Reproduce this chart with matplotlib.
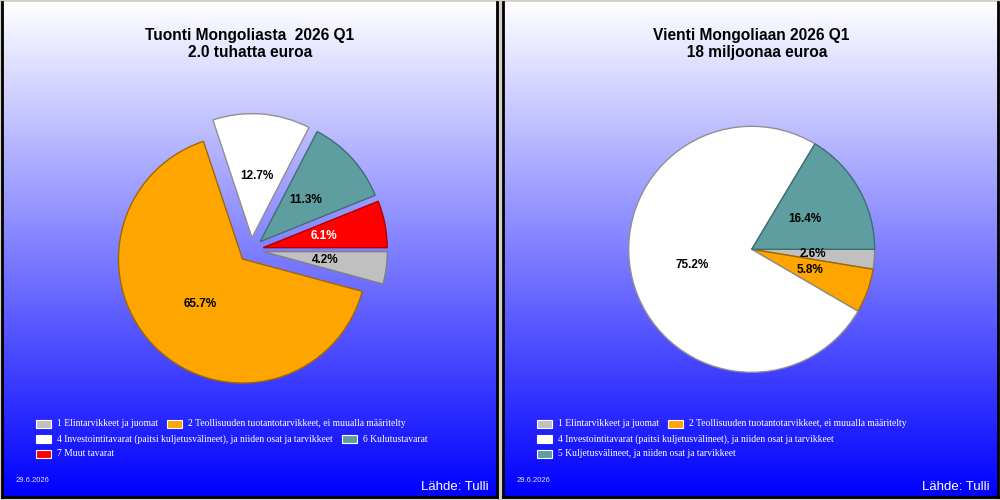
import numpy as np
import matplotlib
matplotlib.use("Agg")
import matplotlib.pyplot as plt
from matplotlib.patches import Rectangle

# tuonti (vasen paneeli)
tuonti_labels = ["1 Elintarvikkeet ja juomat",
                 "2 Teollisuuden tuotantotarvikkeet, ei muualla määritelty",
                 "4 Investointitavarat (paitsi kuljetusvälineet), ja niiden osat ja tarvikkeet",
                 "6 Kulutustavarat",
                 "7 Muut tavarat"]
tuonti_values = [4.2, 65.7, 12.7, 11.3, 6.1]
tuonti_title = "Tuonti Mongoliasta  2026 Q1\n2.0 tuhatta euroa"

# vienti (oikea paneeli)
vienti_labels = ["1 Elintarvikkeet ja juomat",
                 "2 Teollisuuden tuotantotarvikkeet, ei muualla määritelty",
                 "4 Investointitavarat (paitsi kuljetusvälineet), ja niiden osat ja tarvikkeet",
                 "5 Kuljetusvälineet, ja niiden osat ja tarvikkeet"]
vienti_values = [2.6, 5.8, 75.2, 16.4]
vienti_title = "Vienti Mongoliaan 2026 Q1\n   18 miljoonaa euroa"

date_text = "29.6.2026"
source_text = "Lähde: Tulli"

W, H = 1000, 500
fig = plt.figure(figsize=(10, 5), dpi=100, facecolor="#d4d0c8")
renderer = fig.canvas.get_renderer()

def fx(x):
    return x / W

def fy(y):
    return 1 - y / H

def panel(x0, labels, values, colors, edges, explode, pct_white, title, rows, cx, cy, r):
    # taustan liukuväri
    bg = fig.add_axes([fx(x0 + 2), fy(497), fx(495), 495 / H])
    t = np.linspace(1, 0, 256)
    grad = np.zeros((256, 2, 3))
    grad[:, :, 0] = t[:, None]
    grad[:, :, 1] = t[:, None]
    grad[:, :, 2] = 1.0
    bg.imshow(grad, aspect="auto", extent=[0, 1, 0, 1])
    bg.set_xlim(0, 1)
    bg.set_ylim(0, 1)
    bg.set_xticks([])
    bg.set_yticks([])
    for s in bg.spines.values():
        s.set_color("black")
        s.set_linewidth(2)
    bg.spines["top"].set_visible(False)

    # piirakka
    half = 160
    ax = fig.add_axes([fx(cx - half), fy(cy + half), fx(2 * half), 2 * half / H])
    ax.set_facecolor("none")
    wedges, texts, autotexts = ax.pie(values, colors=colors, explode=explode,
                                      startangle=0, counterclock=False,
                                      autopct="%.1f%%", pctdistance=0.5,
                                      wedgeprops=dict(linewidth=1),
                                      textprops=dict(family="Liberation Sans",
                                                     weight="bold", fontsize=8.5))
    for w, e in zip(wedges, edges):
        w.set_edgecolor(e)
    for i, a in enumerate(autotexts):
        a.set_color("white" if i in pct_white else "black")
    lim = half / r
    ax.set_xlim(-lim, lim)
    ax.set_ylim(-lim, lim)
    ax.set_aspect("equal")
    ax.axis("off")

    # otsikko
    fig.text(fx(x0 + 250), fy(44), title, ha="center", va="center",
             family="Liberation Sans", weight="bold", fontsize=11.2,
             linespacing=1.2)

    # selite
    y = 424
    for row in rows:
        x = x0 + 36
        for i in row:
            fig.patches.append(Rectangle((fx(x), fy(y + 4)), fx(15), 8 / H,
                                         transform=fig.transFigure,
                                         facecolor=colors[i], edgecolor="white",
                                         linewidth=0.8))
            txt = fig.text(fx(x + 21), fy(y), labels[i], ha="left", va="center",
                           family="Liberation Serif", fontsize=6.9, color="white")
            bb = txt.get_window_extent(renderer)
            x = x + 21 + bb.width + 9
        y += 15

    fig.text(fx(x0 + 16), fy(480), date_text, ha="left", va="center",
             family="Liberation Sans", fontsize=5.5, color="#e0e0ff")
    fig.text(fx(x0 + 489), fy(487), source_text, ha="right", va="center",
             family="Liberation Sans", fontsize=9.5, color="white")

panel(0, tuonti_labels, tuonti_values,
      ["#c0c0c0", "#ffa500", "#ffffff", "#5f9ea0", "#ff0000"],
      ["#808080", "#a06800", "#909090", "#3f6e70", "#b00000"],
      [0.1, 0.1, 0.1, 0.1, 0.1], [4], tuonti_title,
      [[0, 1], [2, 3], [4]], 251, 250, 124)

panel(501, vienti_labels, vienti_values,
      ["#c0c0c0", "#ffa500", "#ffffff", "#5f9ea0"],
      ["#808080", "#a06800", "#909090", "#3f6e70"],
      [0, 0, 0, 0], [], vienti_title,
      [[0, 1], [2], [3]], 751.7, 249.3, 123)

fig.savefig("out.png", dpi=100, facecolor=fig.get_facecolor())
